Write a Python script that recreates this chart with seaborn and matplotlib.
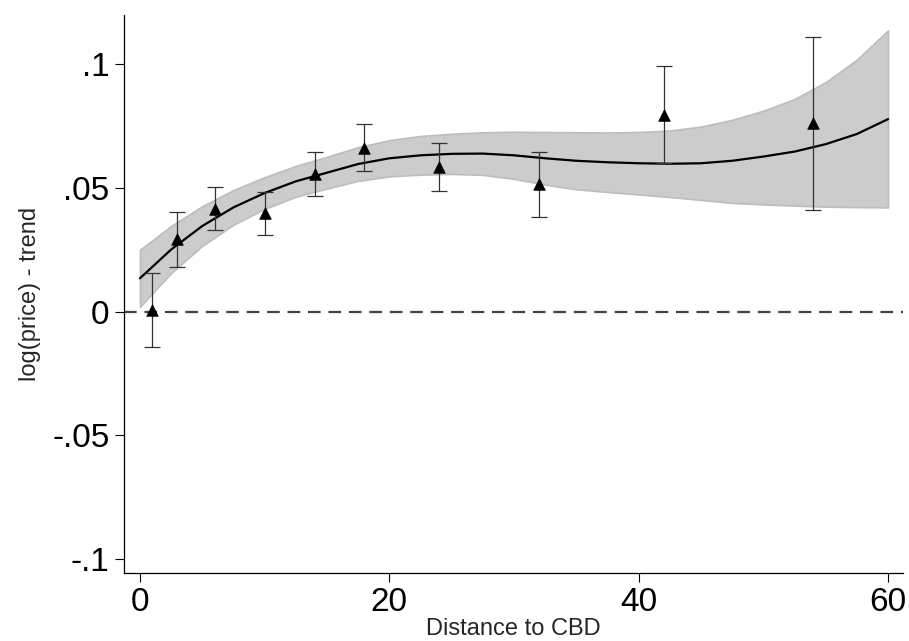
import numpy as np
import pandas as pd
import matplotlib
matplotlib.use("Agg")
import matplotlib.pyplot as plt
import seaborn as sns

# Binned estimates: distance to CBD, point estimate and 95% interval
bin_distance = [1, 3, 6, 10, 14, 18, 24, 32, 42, 54]
bin_estimate = [0.0005, 0.0291, 0.0415, 0.0396, 0.0555, 0.0661, 0.0582, 0.0513, 0.0793, 0.0759]
bin_lower = [-0.0144, 0.0178, 0.0327, 0.0308, 0.0466, 0.0566, 0.0486, 0.0381, 0.0598, 0.0411]
bin_upper = [0.0154, 0.0402, 0.0503, 0.0484, 0.0643, 0.0756, 0.0678, 0.0644, 0.0989, 0.1107]

# Smooth fit and its confidence band
fit_distance = [0, 2.5, 5, 7.5, 10, 12.5, 15, 17.5, 20, 22.5, 25, 27.5, 30,
                32.5, 35, 37.5, 40, 42.5, 45, 47.5, 50, 52.5, 55, 57.5, 60]
fit_value = [0.0134, 0.0250, 0.0345, 0.0420, 0.0478, 0.0525, 0.0560, 0.0595, 0.0618,
             0.0630, 0.0636, 0.0637, 0.0630, 0.0618, 0.0608, 0.0602, 0.0598, 0.0596,
             0.0598, 0.0608, 0.0625, 0.0645, 0.0675, 0.0716, 0.0776]
fit_lower = [0.0019, 0.0155, 0.0265, 0.0350, 0.0414, 0.0463, 0.0496, 0.0527, 0.0545,
             0.0552, 0.0555, 0.0551, 0.0535, 0.0512, 0.0493, 0.0482, 0.0472, 0.0462,
             0.0450, 0.0438, 0.0432, 0.0427, 0.0423, 0.0421, 0.0420]
fit_upper = [0.0249, 0.0345, 0.0425, 0.0490, 0.0542, 0.0587, 0.0624, 0.0663, 0.0691,
             0.0708, 0.0717, 0.0723, 0.0725, 0.0724, 0.0723, 0.0722, 0.0724, 0.0730,
             0.0746, 0.0773, 0.0810, 0.0857, 0.0925, 0.1016, 0.1134]

x_ticks = [0, 20, 40, 60]
y_ticks = [-0.1, -0.05, 0, 0.05, 0.1]
y_tick_labels = ["-.1", "-.05", "0", ".05", ".1"]

bins = pd.DataFrame({"dist": bin_distance, "est": bin_estimate,
                     "lo": bin_lower, "hi": bin_upper})
fit = pd.DataFrame({"dist": fit_distance, "fit": fit_value,
                    "lo": fit_lower, "hi": fit_upper})

sns.set_style("ticks")
plt.rcParams["font.family"] = ["Liberation Sans", "DejaVu Sans"]

fig = plt.figure(figsize=(9.09, 6.41), dpi=100)
ax = fig.add_axes([0.1367, 0.1056, 0.8567, 0.8710])

# confidence band of the fit
ax.fill_between(fit["dist"], fit["lo"], fit["hi"], facecolor="#cccccc",
                edgecolor="#bdbdbd", linewidth=1.2, zorder=1)

# zero reference line
ax.axhline(0, color="#444444", linewidth=1.6, dashes=(5.7, 3.5), zorder=2)

# fitted curve
sns.lineplot(data=fit, x="dist", y="fit", color="black", linewidth=1.6,
             ax=ax, zorder=3, legend=False)

# interval caps for each bin
yerr = np.vstack([bins["est"] - bins["lo"], bins["hi"] - bins["est"]])
ax.errorbar(bins["dist"], bins["est"], yerr=yerr, fmt="none", ecolor="#333333",
            elinewidth=0.9, capsize=5.5, capthick=0.9, zorder=4)

# bin estimates
sns.scatterplot(data=bins, x="dist", y="est", marker="^", s=70, color="black",
                edgecolor="black", linewidth=0.5, ax=ax, zorder=5, legend=False)

ax.set_xlim(-1.26, 61.2)
ax.set_ylim(-0.1056, 0.1196)
ax.set_xticks(x_ticks)
ax.set_xticklabels([str(t) for t in x_ticks])
ax.set_yticks(y_ticks)
ax.set_yticklabels(y_tick_labels)
ax.tick_params(axis="both", length=6.5, width=0.8, color="black",
               labelsize=24, labelcolor="black")
ax.tick_params(axis="x", pad=3)
ax.tick_params(axis="y", pad=4)

sns.despine(ax=ax)
for side in ("left", "bottom"):
    ax.spines[side].set_color("black")
    ax.spines[side].set_linewidth(0.9)

ax.set_xlabel("Distance to CBD", fontsize=17, labelpad=0)
ax.set_ylabel("log(price) - trend", fontsize=17, labelpad=8)

fig.savefig("out.png", dpi=100)
